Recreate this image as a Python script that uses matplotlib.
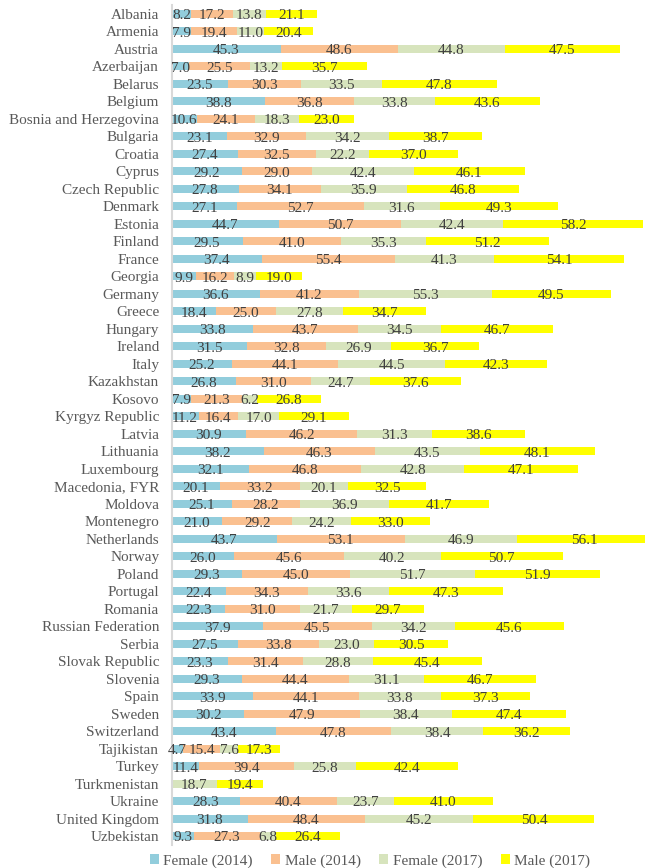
import numpy as np
import matplotlib.pyplot as plt
from matplotlib.patches import Patch

countries = [
    'Albania', 'Armenia', 'Austria', 'Azerbaijan', 'Belarus', 'Belgium',
    'Bosnia and Herzegovina', 'Bulgaria', 'Croatia', 'Cyprus', 'Czech Republic',
    'Denmark', 'Estonia', 'Finland', 'France', 'Georgia', 'Germany', 'Greece',
    'Hungary', 'Ireland', 'Italy', 'Kazakhstan', 'Kosovo', 'Kyrgyz Republic',
    'Latvia', 'Lithuania', 'Luxembourg', 'Macedonia, FYR', 'Moldova',
    'Montenegro', 'Netherlands', 'Norway', 'Poland', 'Portugal', 'Romania',
    'Russian Federation', 'Serbia', 'Slovak Republic', 'Slovenia', 'Spain',
    'Sweden', 'Switzerland', 'Tajikistan', 'Turkey', 'Turkmenistan', 'Ukraine',
    'United Kingdom', 'Uzbekistan',
]
nan = np.nan
female_2014 = [8.2, 7.9, 45.3, 7.0, 23.5, 38.8, 10.6, 23.1, 27.4, 29.2, 27.8,
               27.1, 44.7, 29.5, 37.4, 9.9, 36.6, 18.4, 33.8, 31.5, 25.2, 26.8,
               7.9, 11.2, 30.9, 38.2, 32.1, 20.1, 25.1, 21.0, 43.7, 26.0, 29.3,
               22.4, 22.3, 37.9, 27.5, 23.3, 29.3, 33.9, 30.2, 43.4, 4.7, 11.4,
               nan, 28.3, 31.8, 9.3]
male_2014 = [17.2, 19.4, 48.6, 25.5, 30.3, 36.8, 24.1, 32.9, 32.5, 29.0, 34.1,
             52.7, 50.7, 41.0, 55.4, 16.2, 41.2, 25.0, 43.7, 32.8, 44.1, 31.0,
             21.3, 16.4, 46.2, 46.3, 46.8, 33.2, 28.2, 29.2, 53.1, 45.6, 45.0,
             34.3, 31.0, 45.5, 33.8, 31.4, 44.4, 44.1, 47.9, 47.8, 15.4, 39.4,
             nan, 40.4, 48.4, 27.3]
female_2017 = [13.8, 11.0, 44.8, 13.2, 33.5, 33.8, 18.3, 34.2, 22.2, 42.4, 35.9,
               31.6, 42.4, 35.3, 41.3, 8.9, 55.3, 27.8, 34.5, 26.9, 44.5, 24.7,
               6.2, 17.0, 31.3, 43.5, 42.8, 20.1, 36.9, 24.2, 46.9, 40.2, 51.7,
               33.6, 21.7, 34.2, 23.0, 28.8, 31.1, 33.8, 38.4, 38.4, 7.6, 25.8,
               18.7, 23.7, 45.2, 6.8]
male_2017 = [21.1, 20.4, 47.5, 35.7, 47.8, 43.6, 23.0, 38.7, 37.0, 46.1, 46.8,
             49.3, 58.2, 51.2, 54.1, 19.0, 49.5, 34.7, 46.7, 36.7, 42.3, 37.6,
             26.8, 29.1, 38.6, 48.1, 47.1, 32.5, 41.7, 33.0, 56.1, 50.7, 51.9,
             47.3, 29.7, 45.6, 30.5, 45.4, 46.7, 37.3, 47.4, 36.2, 17.3, 42.4,
             19.4, 41.0, 50.4, 26.4]

series = [
    ('Female (2014)', female_2014, '#92CDDC'),
    ('Male (2014)', male_2014, '#FAC090'),
    ('Female (2017)', female_2017, '#D7E4BD'),
    ('Male (2017)', male_2017, '#FFFF00'),
]

font = 'Liberation Serif'
fs = 11

fig = plt.figure(figsize=(6.45, 8.68), dpi=100)
ax = fig.add_axes([0.2662, 0.0265, 0.7338, 0.9677])

y = np.arange(len(countries))
left = np.zeros(len(countries))
for name, vals, color in series:
    vals = np.array(vals, dtype=float)
    w = np.nan_to_num(vals)
    ax.barh(y, w, left=left, height=0.44, color=color, label=name)
    for i, v in enumerate(vals):
        if np.isnan(v):
            continue
        ax.text(left[i] + v / 2, y[i] + 0.1, f'{v:.1f}', ha='center', va='center',
                fontsize=fs, family=font, color='#404040')
    left += w

ax.set_xlim(0, 196.8)
ax.set_ylim(len(countries) - 0.5, -0.5)
ax.set_yticks(y)
ax.set_yticklabels(countries, family=font, fontsize=fs, color='#595959')
ax.tick_params(axis='y', length=0, pad=9)
ax.set_xticks([])
for s in ['top', 'right', 'bottom']:
    ax.spines[s].set_visible(False)
ax.spines['left'].set_color('#D9D9D9')
ax.spines['left'].set_linewidth(1.5)

handles = [Patch(facecolor=c, label=n) for n, _, c in series]
leg = fig.legend(handles=handles, loc='center', bbox_to_anchor=(370 / 645, 1 - 861 / 868),
                 ncol=4, frameon=False, handlelength=0.6, handleheight=0.6,
                 handletextpad=0.3, columnspacing=1.2,
                 prop={'family': font, 'size': fs})
for t in leg.get_texts():
    t.set_color('#595959')

fig.savefig('out.png', dpi=100)
